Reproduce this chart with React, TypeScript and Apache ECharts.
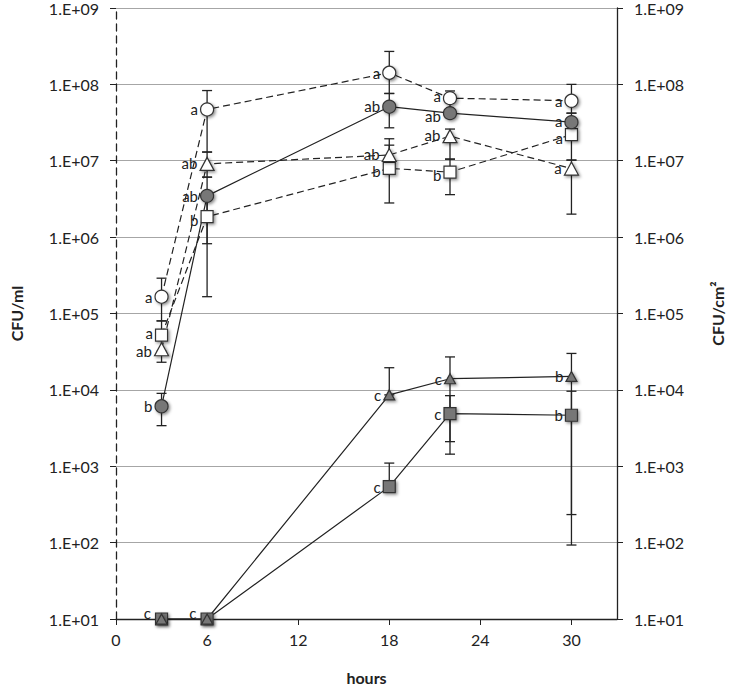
import React, { useEffect, useRef } from "react";
import * as echarts from "echarts";

const hours = [3, 6, 18, 22, 30];
const yTickExponents = [1, 2, 3, 4, 5, 6, 7, 8, 9];
const xTicks = [0, 6, 12, 18, 24, 30];

// open circle (dashed)
const openCircle = [1.66e5, 4.7e7, 1.42e8, 6.6e7, 6.1e7];
const openCircleLow = [8.0e4, 1.3e7, 7.6e7, 4.8e7, 4.2e7];
const openCircleHigh = [2.9e5, 8.3e7, 2.7e8, 8.2e7, 1.0e8];
const openCircleLabels = ["a", "a", "a", "a", "a"];

// grey circle (solid)
const greyCircle = [6.1e3, 3.47e6, 5.1e7, 4.2e7, 3.2e7];
const greyCircleLow = [3.4e3, 8.2e5, 2.7e7, 3.8e7, 2.4e7];
const greyCircleHigh = [9.0e3, 6.1e6, 7.6e7, 4.6e7, 4.2e7];
const greyCircleLabels = ["b", "ab", "ab", "ab", "a"];

// open triangle (dashed)
const openTriangle = [3.4e4, 9.1e6, 1.19e7, 2.1e7, 7.9e6];
const openTriangleLow = [2.3e4, 6.1e6, 7.5e6, 1.05e7, 2.0e6];
const openTriangleHigh = [4.5e4, 1.3e7, 1.94e7, 2.6e7, 1.02e7];
const openTriangleLabels = ["ab", "ab", "ab", "ab", "a"];

// open square (dashed)
const openSquare = [5.2e4, 1.85e6, 7.95e6, 7.1e6, 2.2e7];
const openSquareLow = [3.2e4, 1.66e5, 2.8e6, 3.6e6, 1.02e7];
const openSquareHigh = [8.0e4, 3.47e6, 1.6e7, 1.05e7, 3.0e7];
const openSquareLabels = ["a", "b", "b", "b", "a"];

// grey triangle (solid)
const greyTriangle = [10, 10, 8.6e3, 1.4e4, 1.5e4];
const greyTriangleLow = [null, null, 8.6e3, 2.1e3, 233];
const greyTriangleHigh = [null, null, 1.95e4, 2.7e4, 3.0e4];
const greyTriangleLabels = ["", "", "c", "c", "b"];

// grey square (solid)
const greySquare = [10, 10, 541, 4.9e3, 4.65e3];
const greySquareLow = [null, null, 541, 1.44e3, 93];
const greySquareHigh = [null, null, 1.1e3, 8.4e3, 9.6e3];
const greySquareLabels = ["c", "c", "c", "c", "b"];

const FONT = "Lato";
const DARK = "#222";
const GREY_FILL = "#777777";

const fmtExp = (v: number) => {
  const e = Math.round(Math.log10(v));
  if (!yTickExponents.includes(e)) return "";
  return "1.E+" + String(e).padStart(2, "0");
};

const errData = (lo: (number | null)[], hi: (number | null)[]) =>
  hours
    .map((h, i) => (lo[i] != null && hi[i] != null ? [h, lo[i], hi[i]] : null))
    .filter((d) => d !== null);

const errorSeries = (lo: (number | null)[], hi: (number | null)[]) => ({
  type: "custom",
  z: 1,
  silent: true,
  encode: { x: 0, y: [1, 2] },
  data: errData(lo, hi),
  renderItem: (_params: any, api: any) => {
    const x = api.value(0);
    const pLo = api.coord([x, api.value(1)]);
    const pHi = api.coord([x, api.value(2)]);
    const w = 5;
    const st = { stroke: DARK, lineWidth: 1.3 };
    return {
      type: "group",
      children: [
        { type: "line", shape: { x1: pLo[0], y1: pLo[1], x2: pHi[0], y2: pHi[1] }, style: st },
        { type: "line", shape: { x1: pLo[0] - w, y1: pLo[1], x2: pLo[0] + w, y2: pLo[1] }, style: st },
        { type: "line", shape: { x1: pHi[0] - w, y1: pHi[1], x2: pHi[0] + w, y2: pHi[1] }, style: st },
      ],
    };
  },
});

const lineSeries = (
  name: string,
  values: number[],
  labels: string[],
  symbol: string,
  symbolSize: number | number[],
  fill: string,
  dashed: boolean,
  labelDy: number[]
) => ({
  name,
  type: "line",
  z: 3,
  data: hours.map((h, i) => [h, values[i]]),
  symbol,
  symbolSize,
  showAllSymbol: true,
  lineStyle: { color: DARK, width: 1.2, type: dashed ? [7, 4] : "solid" },
  itemStyle: {
    color: fill,
    borderColor: "#333",
    borderWidth: 1.2,
    shadowBlur: 3,
    shadowColor: "rgba(0,0,0,0.45)",
    shadowOffsetX: 1.5,
    shadowOffsetY: 1.5,
  },
  label: {
    show: true,
    position: "left",
    distance: 2,
    fontFamily: FONT,
    fontSize: 15,
    lineHeight: 15,
    color: DARK,
    formatter: (p: any) => labels[p.dataIndex] || "",
  },
  labelLayout: (p: any) => {
    const v = values[p.dataIndex];
    return v <= 10 ? { dy: -6, dx: -2 } : { dy: labelDy[p.dataIndex] };
  },
});

export default function App() {
  const ref = useRef<HTMLDivElement>(null);
  useEffect(() => {
    if (!ref.current) return;
    const chart = echarts.init(ref.current, undefined, { renderer: "svg" });
    const yAxisCommon = {
      type: "log",
      logBase: 10,
      min: 10,
      max: 1e9,
      nameLocation: "middle",
      nameRotate: 90,
      nameGap: 92,
      nameTextStyle: { fontFamily: FONT, fontSize: 16, fontWeight: "bold", color: DARK },
      axisTick: { show: true, length: 6, lineStyle: { color: DARK } },
      axisLabel: { fontFamily: FONT, fontSize: 16, color: DARK, margin: 17, formatter: fmtExp },
      minorTick: { show: false },
    };
    chart.setOption({
      animation: false,
      backgroundColor: "#ffffff",
      grid: { left: 111, right: 111, top: 5, bottom: 65, containLabel: false },
      xAxis: {
        type: "value",
        min: 0,
        max: 33,
        interval: 6,
        name: "hours",
        nameLocation: "middle",
        nameGap: 50,
        nameTextStyle: { fontFamily: FONT, fontSize: 16, fontWeight: "bold", color: DARK },
        axisLine: { show: true, onZero: false, lineStyle: { color: DARK, width: 1.3 } },
        axisTick: { show: true, length: 6, lineStyle: { color: DARK } },
        axisLabel: {
          fontFamily: FONT,
          fontSize: 16,
          color: DARK,
          margin: 12,
          showMaxLabel: false,
          formatter: (v: number) => (xTicks.includes(v) ? String(v) : ""),
        },
        splitLine: { show: false },
      },
      yAxis: [
        {
          ...yAxisCommon,
          position: "left",
          name: "CFU/ml",
          axisLine: { show: true, lineStyle: { color: DARK, width: 1.3, type: [7, 5] } },
          splitLine: { show: true, lineStyle: { color: "#a6a6a6", width: 1.2 } },
        },
        {
          ...yAxisCommon,
          position: "right",
          name: "CFU/cm²",
          axisLine: { show: true, lineStyle: { color: DARK, width: 1.3 } },
          splitLine: { show: false },
        },
      ],
      series: [
        errorSeries(openCircleLow, openCircleHigh),
        errorSeries(greyCircleLow, greyCircleHigh),
        errorSeries(openTriangleLow, openTriangleHigh),
        errorSeries(openSquareLow, openSquareHigh),
        errorSeries(greyTriangleLow, greyTriangleHigh),
        errorSeries(greySquareLow, greySquareHigh),
        lineSeries("openSquare", openSquare, openSquareLabels, "rect", 12, "#ffffff", true, [-2, 3, 3, 3, 3]),
        lineSeries("openTriangle", openTriangle, openTriangleLabels, "triangle", [14, 13], "#ffffff", true, [2, -1, -1, -1, -1]),
        lineSeries("greyCircle", greyCircle, greyCircleLabels, "circle", 13, GREY_FILL, false, [0, 0, -1, 3, -1]),
        lineSeries("openCircle", openCircle, openCircleLabels, "circle", 13, "#ffffff", true, [0, 0, 0, -2, 0]),
        lineSeries("greySquare", greySquare, greySquareLabels, "rect", 12, GREY_FILL, false, [0, 0, 0, 0, 0]),
        lineSeries("greyTriangle", greyTriangle, greyTriangleLabels, "triangle", [11, 10], GREY_FILL, false, [0, 0, 0, 0, 0]),
      ],
    });
    return () => chart.dispose();
  }, []);
  return (
    <div
      ref={ref}
      style={{ position: "fixed", left: 0, top: 0, width: 733, height: 690, background: "#fff" }}
    />
  );
}
